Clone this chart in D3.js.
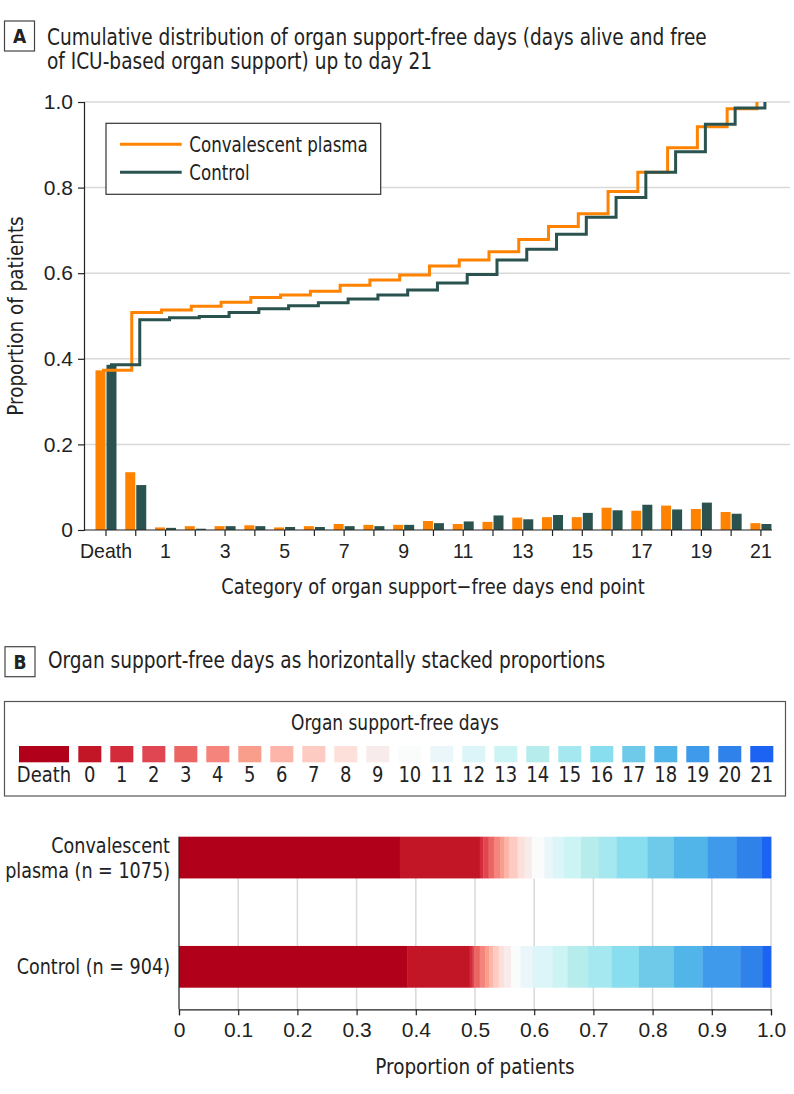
<!DOCTYPE html>
<html><head><meta charset="utf-8">
<script src="https://cdn.jsdelivr.net/npm/d3@7"></script>
<style>
body{margin:0;background:#fff;}
svg{display:block;font-family:"Liberation Sans Narrow","Arial Narrow","DejaVu Sans Condensed",sans-serif;}
</style></head><body>
<svg id="chart" width="794" height="1094"></svg>
<script>
// ---------------- DATA ----------------
const categories = ["Death","0","1","2","3","4","5","6","7","8","9","10","11","12","13","14","15","16","17","18","19","20","21"];
const plasmaProportion  = [0.373,0.135,0.006,0.009,0.009,0.011,0.006,0.009,0.014,0.012,0.012,0.021,0.014,0.019,0.029,0.030,0.030,0.052,0.045,0.057,0.049,0.042,0.016];
const controlProportion = [0.386,0.105,0.005,0.003,0.009,0.009,0.007,0.007,0.009,0.009,0.012,0.016,0.020,0.034,0.025,0.035,0.040,0.046,0.059,0.048,0.064,0.038,0.014];
const seriesNames = ["Convalescent plasma","Control"];
const groupLabels = [["Convalescent","plasma (n = 1075)"],["Control (n = 904)"]];
const yTicksA = [0,0.2,0.4,0.6,0.8,1.0];
const xTickLabelsA = ["Death","1","3","5","7","9","11","13","15","17","19","21"];
const xTicksB = [0,0.1,0.2,0.3,0.4,0.5,0.6,0.7,0.8,0.9,1.0];
const dayColors = ["#b0001a","#c21627","#d42b3b","#e04652","#eb6662","#f5847d","#fa9e8c","#fcb5a8","#fdcbc1","#fde0d9","#f8ebec","#fafcfc","#ebf6fb","#dbf5f8","#cdf4f5","#b6ecec","#a5e8ef","#88ddee","#6fcaea","#52b5e9","#409aeb","#2f82ea","#1d63f3"];
const seriesColors = ["#ff8200","#2a5350"];

// ---------------- SETUP ----------------
const svg = d3.select("#chart");
const ink = "#222";
const grid = "#d9d9d9";
const titleSize = 22.5, labelSize = 21, axisTitleSize = 22;

// horizontal condensing of text to mimic a condensed typeface
function condense(sel, k) {
  sel.each(function () {
    const L = this.getComputedTextLength();
    if (L > 0) d3.select(this).attr("textLength", L * k).attr("lengthAdjust", "spacingAndGlyphs");
  });
  return sel;
}

function panelTag(x, y, letter) {
  svg.append("rect").attr("x", x).attr("y", y).attr("width", 30).attr("height", 30)
    .attr("fill", "#fff").attr("stroke", "#444").attr("stroke-width", 1.2);
  svg.append("text").attr("x", x + 15).attr("y", y + 22).attr("text-anchor", "middle")
    .attr("font-size", 19).attr("font-weight", "bold").attr("fill", ink).text(letter);
}

// ---------------- PANEL A ----------------
panelTag(4.5, 21, "A");
condense(svg.append("text").attr("x", 47).attr("y", 44.5).attr("font-size", titleSize).attr("fill", ink)
  .text("Cumulative distribution of organ support-free days (days alive and free"), 0.915);
condense(svg.append("text").attr("x", 47).attr("y", 69).attr("font-size", titleSize).attr("fill", ink)
  .text("of ICU-based organ support) up to day 21"), 0.915);

const xA = d3.scaleBand().domain(categories).range([91.1, 775.8]).padding(0);
const yA = d3.scaleLinear().domain([0, 1]).range([530, 102]);
const cx = c => xA(c) + xA.bandwidth() / 2;

// gridlines
svg.append("g").selectAll("line").data(yTicksA.filter(d => d > 0)).join("line")
  .attr("x1", 84).attr("x2", 790).attr("y1", d => yA(d)).attr("y2", d => yA(d))
  .attr("stroke", grid).attr("stroke-width", 1.5);

// bars
const barW = 10;
const seriesA = [plasmaProportion, controlProportion];
seriesA.forEach((vals, si) => {
  svg.append("g").selectAll("rect").data(categories).join("rect")
    .attr("x", c => si === 0 ? cx(c) - barW - 0.5 : cx(c) + 0.5)
    .attr("width", barW)
    .attr("y", (c, i) => yA(vals[i]))
    .attr("height", (c, i) => yA(0) - yA(vals[i]))
    .attr("fill", seriesColors[si]);
});

// step lines (cumulative)
const offs = [-4, 4];
seriesA.forEach((vals, si) => {
  const cum = Array.from(d3.cumsum(vals));
  const line = d3.line().curve(d3.curveStepAfter)
    .x((d, i) => cx(categories[i]) + offs[si]).y(d => yA(Math.min(1, d)));
  svg.append("path").datum(cum).attr("d", line).attr("fill", "none")
    .attr("stroke", seriesColors[si]).attr("stroke-width", 3);
});

// y axis
const gyA = svg.append("g").attr("transform", "translate(84,0)")
  .call(d3.axisLeft(yA).tickValues(yTicksA).tickSize(6).tickPadding(5)
    .tickFormat(d => d === 0 ? "0" : d3.format(".1f")(d)));
gyA.select(".domain").attr("stroke", ink).attr("stroke-width", 1.2);
gyA.selectAll(".tick line").attr("stroke", ink).attr("stroke-width", 1.2);
gyA.selectAll("text").attr("font-size", labelSize).attr("font-family", null).attr("fill", ink);

// x axis
const gxA = svg.append("g").attr("transform", "translate(0,530)")
  .call(d3.axisBottom(xA).tickSize(6).tickPadding(7)
    .tickFormat(d => xTickLabelsA.includes(d) ? d : ""));
gxA.select(".domain").remove();
gxA.append("line").attr("x1", 84).attr("x2", 772).attr("stroke", ink).attr("stroke-width", 1.2);
gxA.selectAll(".tick line").attr("stroke", ink).attr("stroke-width", 1.2);
gxA.selectAll("text").attr("font-size", labelSize).attr("font-family", null).attr("fill", ink);
condense(gxA.selectAll("text"), 0.93);

condense(svg.append("text").attr("x", 433).attr("y", 594).attr("text-anchor", "middle")
  .attr("font-size", axisTitleSize).attr("fill", ink).text("Category of organ support\u2212free days end point"), 0.9);
condense(svg.append("text").attr("transform", "translate(23,316) rotate(-90)").attr("text-anchor", "middle")
  .attr("font-size", axisTitleSize).attr("fill", ink).text("Proportion of patients"), 0.93);

// legend A
svg.append("rect").attr("x", 106).attr("y", 123.3).attr("width", 274.7).attr("height", 71)
  .attr("fill", "#fff").attr("stroke", "#333").attr("stroke-width", 1.2);
seriesNames.forEach((n, i) => {
  const ly = 144.3 + i * 28;
  svg.append("line").attr("x1", 120).attr("x2", 181.7).attr("y1", ly).attr("y2", ly)
    .attr("stroke", seriesColors[i]).attr("stroke-width", 3);
  condense(svg.append("text").attr("x", 189.3).attr("y", ly + 7.5).attr("font-size", 20.6)
    .attr("fill", ink).text(n), 0.9);
});

// ---------------- PANEL B ----------------
panelTag(5, 646.7, "B");
condense(svg.append("text").attr("x", 48).attr("y", 668).attr("font-size", titleSize).attr("fill", ink)
  .text("Organ support-free days as horizontally stacked proportions"), 0.915);

// legend B
svg.append("rect").attr("x", 4.5).attr("y", 701.5).attr("width", 781).attr("height", 94.5)
  .attr("fill", "#fff").attr("stroke", "#555").attr("stroke-width", 1.2);
condense(svg.append("text").attr("x", 395).attr("y", 730).attr("text-anchor", "middle")
  .attr("font-size", labelSize).attr("fill", ink).text("Organ support-free days"), 0.9);
const days = categories.slice(1);
const xLeg = d3.scaleBand().domain(days).range([78.3, 773.3]).paddingInner(0.28).paddingOuter(0);
const legItems = categories.map((c, i) => ({
  c, color: dayColors[i],
  x: c === "Death" ? 19 : xLeg(c),
  w: c === "Death" ? 50 : xLeg.bandwidth()
}));
svg.append("g").selectAll("rect").data(legItems).join("rect")
  .attr("x", d => d.x).attr("y", 746).attr("width", d => d.w).attr("height", 16.3)
  .attr("fill", d => d.color);
condense(svg.append("g").selectAll("text").data(legItems).join("text")
  .attr("x", d => d.x + d.w / 2).attr("y", 781.7).attr("text-anchor", "middle")
  .attr("font-size", labelSize).attr("fill", ink).text(d => d.c), 0.95);

// stacked bars
const xB = d3.scaleLinear().domain([0, 1]).range([179, 771]);
const yB = d3.scaleBand().domain(seriesNames).range([836.7, 987.7]).paddingInner(0.618).paddingOuter(0);
const rows = seriesNames.map((n, si) => {
  const r = { group: n };
  categories.forEach((c, i) => { r[c] = seriesA[si][i]; });
  return r;
});
const stacked = d3.stack().keys(categories)(rows);

// gridlines B
svg.append("g").selectAll("line").data(xTicksB.filter(d => d > 0)).join("line")
  .attr("x1", d => xB(d)).attr("x2", d => xB(d)).attr("y1", 836.7).attr("y2", 1009.3)
  .attr("stroke", grid).attr("stroke-width", 1.5);

svg.append("g").selectAll("g").data(stacked).join("g")
  .attr("fill", (s, i) => dayColors[i])
  .selectAll("rect").data(s => s).join("rect")
  .attr("x", d => xB(d[0])).attr("width", d => xB(Math.min(1, d[1])) - xB(d[0]) + 0.3)
  .attr("y", d => yB(d.data.group)).attr("height", yB.bandwidth());

// axes B
svg.append("line").attr("x1", 179).attr("x2", 179).attr("y1", 836.7).attr("y2", 1009.3)
  .attr("stroke", ink).attr("stroke-width", 1.2);
const gxB = svg.append("g").attr("transform", "translate(0,1009.3)")
  .call(d3.axisBottom(xB).tickValues(xTicksB).tickSize(6).tickPadding(7)
    .tickFormat(d => d === 0 ? "0" : d3.format(".1f")(d)));
gxB.select(".domain").attr("stroke", ink).attr("stroke-width", 1.2);
gxB.selectAll(".tick line").attr("stroke", ink).attr("stroke-width", 1.2);
gxB.selectAll("text").attr("font-size", labelSize).attr("font-family", null).attr("fill", ink);
condense(svg.append("text").attr("x", 475).attr("y", 1074).attr("text-anchor", "middle")
  .attr("font-size", axisTitleSize).attr("fill", ink).text("Proportion of patients"), 0.93);

// group labels
groupLabels.forEach((lines, gi) => {
  const yc = yB(seriesNames[gi]) + yB.bandwidth() / 2;
  const n = lines.length;
  lines.forEach((l, li) => {
    condense(svg.append("text").attr("text-anchor", "end").attr("font-size", labelSize).attr("fill", ink)
      .attr("x", 170).attr("y", yc + 7.5 + (li - (n - 1) / 2) * 25).text(l), 0.93);
  });
});
</script>
</body></html>
